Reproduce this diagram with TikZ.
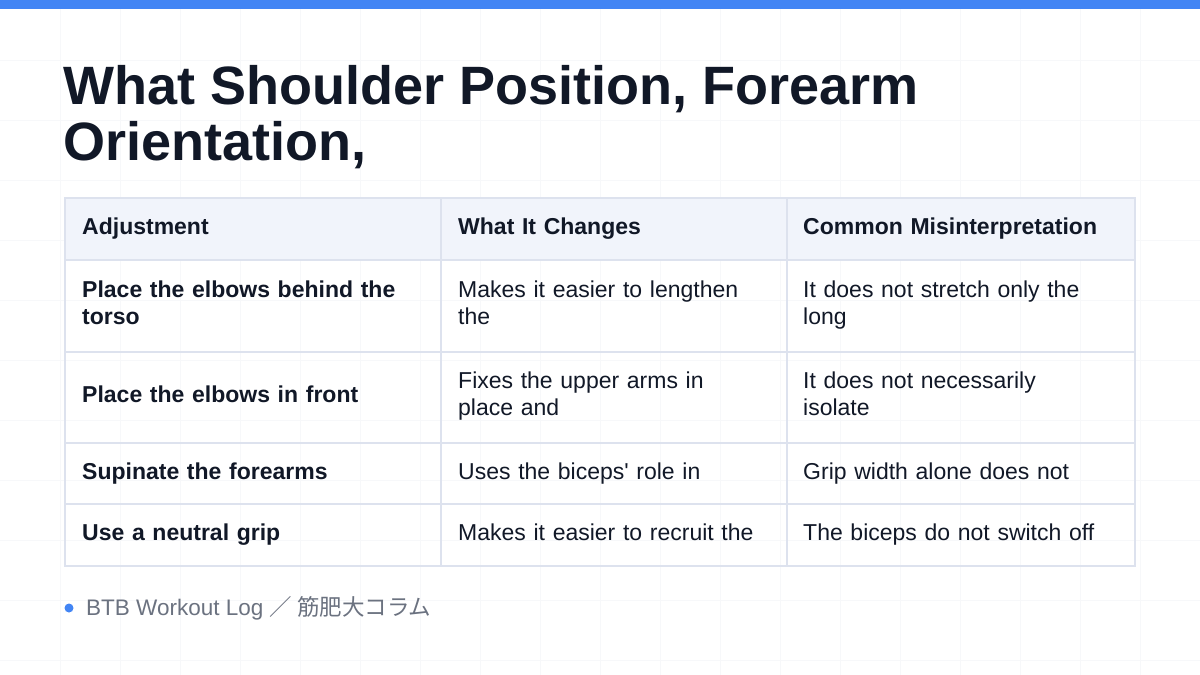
\documentclass[tikz,border=0pt]{standalone}
\usepackage{fontspec}
\setmainfont{Liberation Sans}
\newfontfamily\cjk{Noto Sans CJK JP}
\definecolor{ink}{HTML}{111827}
\definecolor{bar}{HTML}{4285F4}
\definecolor{bd}{HTML}{DDE2EE}
\definecolor{hd}{HTML}{F1F4FB}
\definecolor{gridc}{HTML}{F7F8FA}
\definecolor{foot}{HTML}{6B7280}
\begin{document}
\begin{tikzpicture}[x=1pt,y=-1pt,
  cell/.style={anchor=west,align=left,text width=330pt,font=\fontsize{23}{27}\selectfont,text=ink,inner sep=0pt,
    execute at begin node={\strut}, execute at end node={\strut}},
  hcell/.style={cell,font=\fontsize{23}{27}\selectfont\bfseries},
  bcell/.style={cell,font=\fontsize{23}{27}\selectfont\bfseries}]
\useasboundingbox (0,0) rectangle (1200,675);
\fill[white] (0,0) rectangle (1200,675);
\foreach \i in {60,120,...,1140} \draw[gridc,line width=0.6pt] (\i,0) -- (\i,675);
\foreach \j in {60,120,...,660} \draw[gridc,line width=0.6pt] (0,\j) -- (1200,\j);
\fill[bar] (0,0) rectangle (1200,9);
\node[anchor=base west,inner sep=0pt,text=ink,font=\fontsize{54}{56}\selectfont\bfseries] (t1) at (63,104) {What Shoulder Position, Forearm};
\node[anchor=base west,inner sep=0pt,text=ink,font=\fontsize{54}{56}\selectfont\bfseries] (t2) at (63,160) {Orientation,};
\fill[hd] (65,198) rectangle (1135,260);
\draw[bd,line width=1.2pt] (65,198) rectangle (1135,566);
\foreach \y in {260,352,443,504} \draw[bd,line width=1.2pt] (65,\y) -- (1135,\y);
\foreach \x in {441,787} \draw[bd,line width=1.2pt] (\x,198) -- (\x,566);
\node[hcell] (h1) at (82,229) {Adjustment};
\node[hcell] (h2) at (458,229) {What It Changes};
\node[hcell] (h3) at (803,229) {Common Misinterpretation};
\node[bcell,text width=340pt] (a1) at (82,306) {Place the elbows behind the\\torso};
\node[cell,text width=310pt] (b1) at (458,306) {Makes it easier to lengthen\\the};
\node[cell] (c1) at (803,306) {It does not stretch only the\\long};
\node[bcell] (a2) at (82,397) {Place the elbows in front};
\node[cell] (b2) at (458,397) {Fixes the upper arms in\\place and};
\node[cell] (c2) at (803,397) {It does not necessarily\\isolate};
\node[bcell] (a3) at (82,474) {Supinate the forearms};
\node[cell] (b3) at (458,474) {Uses the biceps\textquotesingle{} role in};
\node[cell] (c3) at (803,474) {Grip width alone does not};
\node[bcell] (a4) at (82,535) {Use a neutral grip};
\node[cell] (b4) at (458,535) {Makes it easier to recruit the};
\node[cell] (c4) at (803,535) {The biceps do not switch off};
\fill[bar] (69,608) circle (4.5);
\node[anchor=west,inner sep=0pt,text=foot,font=\fontsize{22.5}{27}\selectfont] (f) at (86,608) {BTB Workout Log {\cjk ／ 筋肥大コラム}};
\end{tikzpicture}
\end{document}
